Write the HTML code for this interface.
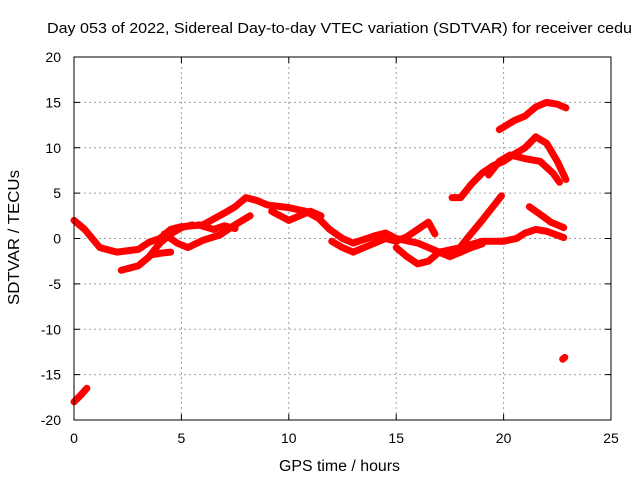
<!DOCTYPE html>
<html><head><meta charset="utf-8"><style>
body{margin:0;background:#fff}
svg{display:block;font-family:"Liberation Sans",sans-serif}
</style></head><body>
<svg id="chart" width="640" height="480">
<text x="47" y="33" font-size="15" textLength="585" lengthAdjust="spacingAndGlyphs" fill="#000">Day 053 of 2022, Sidereal Day-to-day VTEC variation (SDTVAR) for receiver cedu</text>
<g id="grid"></g><g id="series"></g><g id="axes"></g>
<text x="279" y="471" font-size="15.5" textLength="121" lengthAdjust="spacingAndGlyphs">GPS time / hours</text>
<text transform="translate(19,305) rotate(-90)" font-size="15.5" textLength="135" lengthAdjust="spacingAndGlyphs">SDTVAR / TECUs</text>
</svg>
<script>
const xTicks=[0,5,10,15,20,25];
const yTicks=[-20,-15,-10,-5,0,5,10,15,20];
const track1=[[0,2],[0.5,1],[1.2,-1],[2,-1.5],[3,-1.2],[3.5,-0.4],[4,0],[4.5,1],[5,1.3],[6,1.5],[7,2.8],[7.5,3.5],[8,4.5],[8.5,4.2],[9,3.7],[10,3.4],[10.8,3.0],[11.4,2.2],[11.9,1],[12.5,0],[13,-0.5],[14,0.3],[14.5,0.6],[15,0],[16,-0.5],[17,-1.5],[18,-1],[19,-0.3],[20,-0.3],[20.6,0],[21,0.6],[21.5,1],[22,0.8],[22.8,0.1]];
const track2=[[2.2,-3.5],[3,-3],[3.5,-2],[4,-0.5],[4.5,0.5],[5,1.2],[5.5,1.5]];
const track3=[[4.2,0.5],[4.8,-0.5],[5.3,-1],[6,-0.2],[6.8,0.4],[7.3,1.2],[7.7,1.8],[8.2,2.5]];
const track4=[[3.6,-1.8],[4.1,-1.6],[4.5,-1.5]];
const track5=[[5.8,1.5],[6.5,1.0],[7,1.4],[7.5,1.1]];
const track6=[[9.2,3.0],[10,2.0],[10.5,2.5],[11,3],[11.5,2.5]];
const track7=[[12,-0.3],[12.5,-1],[13,-1.5],[13.5,-1],[14,-0.5],[14.5,0],[15,-0.3],[15.5,0.2],[16,1],[16.5,1.8],[16.8,0.5]];
const track8=[[15,-1],[15.5,-2],[16,-2.8],[16.5,-2.5],[17,-1.5],[17.5,-2],[18,-1.5],[18.5,-1],[19,-0.6]];
const track9=[[19.8,12],[20.5,13],[21,13.5],[21.5,14.5],[22,15],[22.5,14.8],[22.9,14.4]];
const track10=[[17.6,4.5],[18,4.5],[18.5,6],[19,7.2],[19.5,8],[20,8.5],[20.5,9.3],[21,10],[21.5,11.2],[22,10.5],[22.5,8.5],[22.9,6.5]];
const track11=[[19.3,7],[19.8,8.5],[20.3,9.2],[21,8.8],[21.7,8.5],[22.3,7.2],[22.6,6.2]];
const track12=[[17.8,-1.5],[18.3,0],[19,2],[19.5,3.5],[19.9,4.7]];
const track13=[[21.2,3.5],[21.8,2.5],[22.2,1.8],[22.8,1.2]];
const track14=[[0,-18],[0.3,-17.3],[0.6,-16.5]];
const track15=[[22.75,-13.3],[22.85,-13.1]];
const allTracks=[track1,track2,track3,track4,track5,track6,track7,track8,track9,track10,track11,track12,track13,track14,track15];
const X0=74,X1=611,Y0=420,Y1=57;
const sx=t=>X0+(t-0)/25*(X1-X0);
const sy=v=>Y0-(v+20)/40*(Y0-Y1);
const NS="http://www.w3.org/2000/svg";
function mk(tag,attrs,parent){const e=document.createElementNS(NS,tag);for(const k in attrs)e.setAttribute(k,attrs[k]);parent.appendChild(e);return e;}
const grid=document.getElementById('grid'),axes=document.getElementById('axes'),ser=document.getElementById('series');
xTicks.forEach(t=>{
 if(t>0&&t<25){const g=mk('line',{x1:sx(t),x2:sx(t),y1:Y1,y2:Y0,stroke:'#a0a0a0','stroke-dasharray':'2,3'},grid);
 
 }
 mk('line',{x1:sx(t),x2:sx(t),y1:Y0,y2:Y0-6,stroke:'#000'},axes);
 mk('line',{x1:sx(t),x2:sx(t),y1:Y1,y2:Y1+6,stroke:'#000'},axes);
 const l=mk('text',{x:sx(t),y:Y0+23,'font-size':14,'text-anchor':'middle'},axes);l.textContent=t;
 
 
});
yTicks.forEach(v=>{
 if(v>-20&&v<20){const g=mk('line',{x1:X0,x2:X1,y1:sy(v),y2:sy(v),stroke:'#a0a0a0','stroke-dasharray':'2,3'},grid);
 
 }
 mk('line',{x1:X0,x2:X0+6,y1:sy(v),y2:sy(v),stroke:'#000'},axes);
 mk('line',{x1:X1,x2:X1-6,y1:sy(v),y2:sy(v),stroke:'#000'},axes);
 const l=mk('text',{x:X0-13,y:sy(v)+5,'font-size':14,'text-anchor':'end'},axes);l.textContent=v;
 
 
});
const fr=mk('rect',{x:X0,y:Y1,width:X1-X0,height:Y0-Y1,fill:'none',stroke:'#000'},axes);


allTracks.forEach((tr,i)=>{
 const p=mk('polyline',{points:tr.map(d=>sx(d[0])+','+sy(d[1])).join(' '),fill:'none',stroke:'#ff0000','stroke-width':7,'stroke-linejoin':'round','stroke-linecap':'round'},ser);
 
 
});
</script>
</body></html>
